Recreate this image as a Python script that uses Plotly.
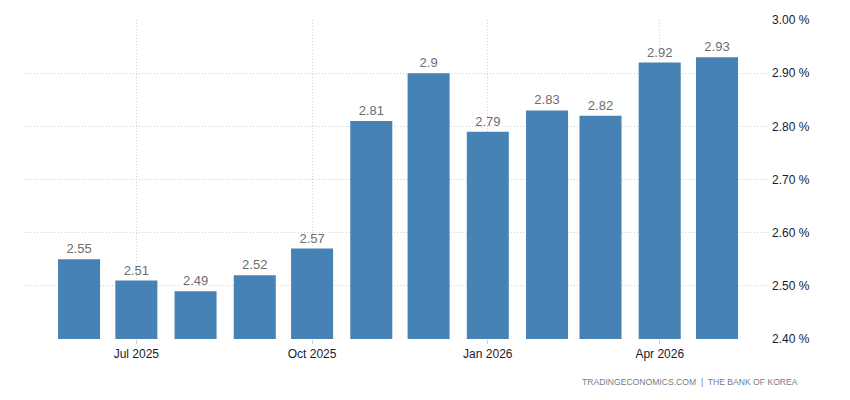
import plotly.graph_objects as go

months = ["2025-06-01", "2025-07-01", "2025-08-01", "2025-09-01", "2025-10-01", "2025-11-01",
          "2025-12-01", "2026-01-01", "2026-02-01", "2026-03-01", "2026-04-01", "2026-05-01"]
values = [2.55, 2.51, 2.49, 2.52, 2.57, 2.81, 2.9, 2.79, 2.83, 2.82, 2.92, 2.93]
labels = ["2.55", "2.51", "2.49", "2.52", "2.57", "2.81", "2.9", "2.79", "2.83", "2.82", "2.92", "2.93"]
x_tickvals = ["2025-07-01", "2025-10-01", "2026-01-01", "2026-04-01"]
x_ticktext = ["Jul 2025", "Oct 2025", "Jan 2026", "Apr 2026"]
y_tickvals = [2.4, 2.5, 2.6, 2.7, 2.8, 2.9, 3.0]
y_ticktext = ["2.40 %", "2.50 %", "2.60 %", "2.70 %", "2.80 %", "2.90 %", "3.00 %"]

fig = go.Figure()
fig.add_trace(go.Bar(
    x=months, y=values, text=labels, textposition="outside",
    textfont=dict(family="Liberation Sans, Arial", size=13, color="#6d6d6d"),
    constraintext="none",
    marker=dict(color="#4682B4", line=dict(width=0)),
    width=22 * 86400000, cliponaxis=False, hoverinfo="skip",
))

fig.update_layout(
    width=850, height=400,
    margin=dict(l=25, r=81, t=20, b=61),
    plot_bgcolor="white", paper_bgcolor="white",
    showlegend=False,
    font=dict(family="Liberation Sans, Arial", size=12, color="#1a1a2e"),
    xaxis=dict(
        type="date", range=["2025-05-03 17:00", "2026-05-28 05:00"],
        tickvals=x_tickvals, ticktext=x_ticktext,
        showgrid=True, gridcolor="#d0d0d0", griddash="1px,2px", gridwidth=1,
        ticks="outside", ticklen=4, tickcolor="#d0d0d0",
        showline=False, zeroline=False,
        tickfont=dict(size=12, color="#1a1a2e"),
    ),
    yaxis=dict(
        side="right", range=[2.4, 3.0], tickvals=y_tickvals, ticktext=y_ticktext,
        showgrid=True, gridcolor="#d0d0d0", griddash="1px,2px", gridwidth=1,
        ticks="", showline=False, zeroline=False,
        tickfont=dict(size=12, color="#1a1a2e"),
        ticklabelstandoff=2,
    ),
    annotations=[dict(
        text="TRADINGECONOMICS.COM  |  THE BANK OF KOREA",
        xref="paper", yref="paper", x=(800 - 25) / 744, y=-(382 - 339) / 319,
        xanchor="right", yanchor="middle", showarrow=False,
        font=dict(family="Liberation Sans, Arial", size=8.6, color="#7a7a8a"),
    )],
)

fig.write_html("out.html")
